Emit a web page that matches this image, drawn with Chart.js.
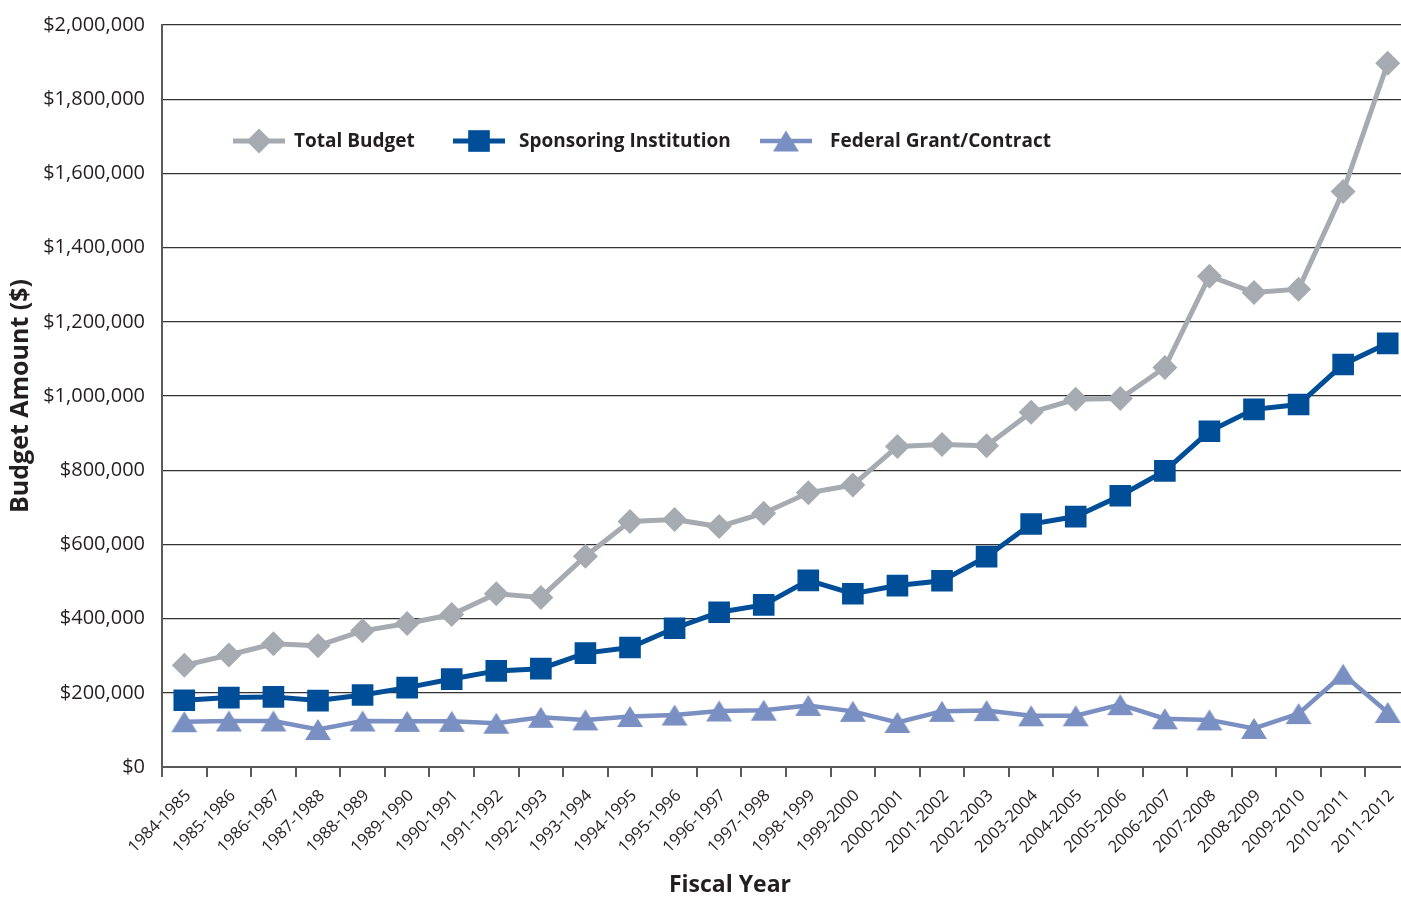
<!DOCTYPE html>
<html>
<head>
<meta charset="utf-8">
<script src="https://cdn.jsdelivr.net/npm/chart.js@4.4.1/dist/chart.umd.min.js"></script>
<style>
  html, body { margin: 0; padding: 0; background: #ffffff; overflow: hidden; }
  #wrap { width: 1401px; height: 897px; position: relative; overflow: hidden; }
  #budgetChart { display: block; }
</style>
</head>
<body>
<div id="wrap"><canvas id="budgetChart" width="1410" height="897"></canvas></div>
<script>
// Fiscal years on the horizontal axis
const fiscalYears = [
  '1984-1985', '1985-1986', '1986-1987', '1987-1988', '1988-1989', '1989-1990', '1990-1991',
  '1991-1992', '1992-1993', '1993-1994', '1994-1995', '1995-1996', '1996-1997', '1997-1998',
  '1998-1999', '1999-2000', '2000-2001', '2001-2002', '2002-2003', '2003-2004', '2004-2005',
  '2005-2006', '2006-2007', '2007-2008', '2008-2009', '2009-2010', '2010-2011', '2011-2012'
];

// Budget amounts in dollars
const totalBudget = [
  274000, 302000, 332000, 327000, 367000, 387000, 411000,
  467000, 457000, 568000, 662000, 667000, 648000, 684000,
  739000, 760000, 864000, 869000, 866000, 956000, 991000,
  993000, 1077000, 1323000, 1279000, 1288000, 1551000, 1897000
];
const sponsoringInstitution = [
  180000, 187000, 189000, 179000, 194000, 214000, 237000,
  259000, 265000, 307000, 322000, 374000, 417000, 437000,
  503000, 467000, 489000, 502000, 567000, 655000, 675000,
  731000, 798000, 905000, 964000, 977000, 1085000, 1142000
];
const federalGrantContract = [
  122000, 124000, 124000, 101000, 124000, 123000, 123000,
  118000, 134000, 127000, 136000, 140000, 151000, 153000,
  166000, 150000, 120000, 150000, 152000, 138000, 138000,
  168000, 130000, 127000, 104000, 144000, 250000, 147000
];

const seriesNames = ['Total Budget', 'Sponsoring Institution', 'Federal Grant/Contract'];

// Value axis range and tick step
const yMin = 0;
const yMax = 2000000;
const yStep = 200000;

const FONT = '"Open Sans", "Noto Sans", sans-serif';
const TEXT = '#231f20';

// Triangle marker centred on its bounding box
function makeTriangle(color, w, h) {
  const c = document.createElement('canvas');
  c.width = w + 2;
  c.height = h + 2;
  const g = c.getContext('2d');
  g.fillStyle = color;
  g.beginPath();
  g.moveTo(c.width / 2, 1);
  g.lineTo(c.width - 1, h + 1);
  g.lineTo(1, h + 1);
  g.closePath();
  g.fill();
  return c;
}
const triangleMarker = makeTriangle('#7a8fc2', 26, 21);

// Legend drawn inside the plot: line sample with marker, then label
const insideLegend = {
  id: 'insideLegend',
  afterDatasetsDraw(chart) {
    const ctx = chart.ctx;
    const slots = [[233, 294], [453, 519], [760, 830]];
    const y = 141;
    ctx.save();
    chart.data.datasets.forEach((ds, i) => {
      const [x0, tx] = slots[i];
      ctx.strokeStyle = ds.borderColor;
      ctx.lineWidth = ds.borderWidth;
      ctx.beginPath();
      ctx.moveTo(x0, y);
      ctx.lineTo(x0 + 52, y);
      ctx.stroke();
      ctx.fillStyle = ds.pointBackgroundColor;
      Chart.helpers.drawPoint(ctx, {
        pointStyle: ds.pointStyle,
        radius: ds.pointRadius,
        borderWidth: 0,
        rotation: 0
      }, x0 + 26, y);
      ctx.fillStyle = TEXT;
      ctx.font = 'bold 19px ' + FONT;
      ctx.textAlign = 'left';
      ctx.textBaseline = 'middle';
      ctx.fillText(ds.label, tx, y + 1);
    });
    ctx.restore();
  },
  afterDraw(chart) {
    const ctx = chart.ctx;
    ctx.save();
    ctx.fillStyle = TEXT;
    ctx.font = 'bold 23px ' + FONT;
    ctx.textAlign = 'center';
    ctx.textBaseline = 'middle';
    ctx.fillText('Fiscal Year', 730, 885);
    ctx.restore();
  }
};

new Chart(document.getElementById('budgetChart'), {
  type: 'line',
  data: {
    labels: fiscalYears,
    datasets: [
      {
        label: seriesNames[0],
        data: totalBudget,
        borderColor: '#a6abb2',
        backgroundColor: '#a6abb2',
        pointBackgroundColor: '#a6abb2',
        borderWidth: 5,
        pointStyle: 'rectRot',
        pointRadius: 12.5,
        pointBorderWidth: 0,
        pointHoverRadius: 12.5
      },
      {
        label: seriesNames[1],
        data: sponsoringInstitution,
        borderColor: '#004e97',
        backgroundColor: '#004e97',
        pointBackgroundColor: '#004e97',
        borderWidth: 5,
        pointStyle: 'rect',
        pointRadius: 15.3,
        pointBorderWidth: 0,
        pointHoverRadius: 15.3
      },
      {
        label: seriesNames[2],
        data: federalGrantContract,
        borderColor: '#7a8fc2',
        backgroundColor: '#7a8fc2',
        pointBackgroundColor: '#7a8fc2',
        borderWidth: 4.5,
        pointStyle: triangleMarker,
        pointRadius: 13,
        pointBorderWidth: 0,
        pointHoverRadius: 13
      }
    ]
  },
  options: {
    responsive: false,
    animation: false,
    events: [],
    elements: { line: { tension: 0 } },
    layout: { autoPadding: false, padding: { left: 0, top: 25, right: 0, bottom: 0 } },
    plugins: {
      legend: { display: false },
      tooltip: { enabled: false }
    },
    scales: {
      x: {
        offset: true,
        grid: {
          display: true,
          offset: true,
          drawOnChartArea: false,
          drawTicks: true,
          tickLength: 10,
          color: '#5a5a5a',
          lineWidth: 2
        },
        border: { display: true, color: '#5a5a5a', width: 2 },
        ticks: {
          autoSkip: false,
          maxRotation: 45,
          minRotation: 45,
          padding: 9,
          labelOffset: 4,
          color: TEXT,
          font: { family: FONT, size: 16.5 }
        },
        afterFit(scale) {
          scale.height = 130;
          scale.paddingLeft = 0;
          scale.paddingRight = 0;
        }
      },
      y: {
        min: yMin,
        max: yMax,
        grid: {
          color: '#333333',
          lineWidth: 1.3,
          drawTicks: false
        },
        border: { display: true, color: '#5a5a5a', width: 2 },
        ticks: {
          stepSize: yStep,
          padding: 17,
          color: TEXT,
          font: { family: FONT, size: 20 },
          callback: (v) => '$' + Number(v).toLocaleString('en-US')
        },
        title: {
          display: true,
          text: 'Budget Amount ($)',
          color: TEXT,
          font: { family: FONT, size: 25, weight: 'bold' },
          padding: { top: 6, bottom: 0 }
        },
        afterFit(scale) {
          scale.width = 162;
          scale.paddingTop = 0;
          scale.paddingBottom = 0;
        }
      }
    }
  },
  plugins: [insideLegend]
});
</script>
</body>
</html>
